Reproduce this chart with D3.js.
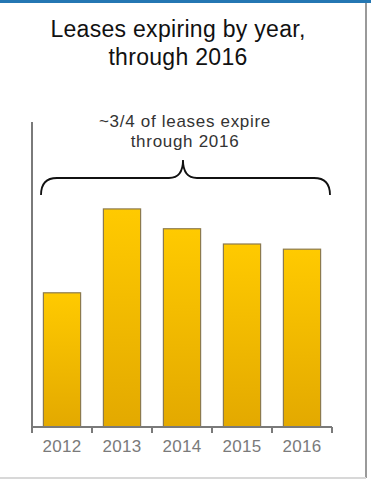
<!DOCTYPE html>
<html>
<head>
<meta charset="utf-8">
<script src="https://cdn.jsdelivr.net/npm/d3@7"></script>
<style>
  body { margin: 0; background: #fff; }
  svg { display: block; font-family: "Liberation Sans", Arial, sans-serif; }
</style>
</head>
<body>
<div id="chart"></div>
<script>
const years = ["2012", "2013", "2014", "2015", "2016"];
const leases = [44, 71.5, 65, 60, 58.3];
const titleLines = ["Leases expiring by year,", "through 2016"];
const noteLines = ["~3/4 of leases expire", "through 2016"];

const width = 371, height = 483;
const margin = {top: 122, right: 39, bottom: 56, left: 32};

const svg = d3.select("#chart")
    .append("svg")
    .attr("width", width)
    .attr("height", height);

// card frame
svg.append("rect")
    .attr("x", 0).attr("y", 0)
    .attr("width", 366).attr("height", 477)
    .attr("fill", "#fff");
svg.append("line")
    .attr("x1", 366).attr("x2", 366).attr("y1", 0).attr("y2", 478)
    .attr("stroke", "#9a9a9a").attr("stroke-width", 2);
svg.append("line")
    .attr("x1", 0).attr("x2", 366).attr("y1", 478).attr("y2", 478)
    .attr("stroke", "#d8d8d8").attr("stroke-width", 2);
svg.append("rect")
    .attr("x", 0).attr("y", 0)
    .attr("width", width).attr("height", 3)
    .attr("fill", "#2477b3");

const defs = svg.append("defs");
const grad = defs.append("linearGradient")
    .attr("id", "barGrad")
    .attr("x1", 0).attr("x2", 0).attr("y1", 0).attr("y2", 1);
grad.append("stop").attr("offset", "0%").attr("stop-color", "#ffca00");
grad.append("stop").attr("offset", "100%").attr("stop-color", "#e3a900");

const x = d3.scaleBand()
    .domain(years)
    .range([margin.left, width - margin.right])
    .paddingInner(0.38)
    .paddingOuter(0.19);

const y = d3.scaleLinear()
    .domain([0, 100])
    .range([height - margin.bottom, margin.top]);

svg.selectAll(".bar")
    .data(years)
    .enter()
    .append("rect")
    .attr("class", "bar")
    .attr("x", d => x(d))
    .attr("y", (d, i) => y(leases[i]))
    .attr("width", x.bandwidth())
    .attr("height", (d, i) => y(0) - y(leases[i]))
    .attr("fill", "url(#barGrad)")
    .attr("stroke", "#8c7a4e")
    .attr("stroke-width", 1.2);

// x axis
const bottom = height - margin.bottom;
svg.append("line")
    .attr("x1", margin.left).attr("x2", width - margin.right)
    .attr("y1", bottom).attr("y2", bottom)
    .attr("stroke", "#7a7a7a").attr("stroke-width", 2);
const step = x.step();
svg.selectAll(".tick")
    .data(d3.range(years.length + 1))
    .enter()
    .append("line")
    .attr("x1", i => margin.left + i * step)
    .attr("x2", i => margin.left + i * step)
    .attr("y1", bottom).attr("y2", bottom + 6)
    .attr("stroke", "#7a7a7a").attr("stroke-width", 2);
svg.selectAll(".ylab")
    .data(years)
    .enter()
    .append("text")
    .attr("x", d => x(d) + x.bandwidth() / 2)
    .attr("y", bottom + 25)
    .attr("text-anchor", "middle")
    .attr("font-size", 17)
    .attr("letter-spacing", 0.3)
    .attr("fill", "#7a7a7a")
    .text(d => d);

// y axis line
svg.append("line")
    .attr("x1", margin.left).attr("x2", margin.left)
    .attr("y1", margin.top).attr("y2", bottom)
    .attr("stroke", "#7a7a7a").attr("stroke-width", 2);

// title
svg.selectAll(".title")
    .data(titleLines)
    .enter()
    .append("text")
    .attr("x", 178)
    .attr("y", (d, i) => 37 + i * 28)
    .attr("text-anchor", "middle")
    .attr("font-size", 23)
    .attr("letter-spacing", 0.3)
    .attr("fill", "#111")
    .text(d => d);

// note
svg.selectAll(".note")
    .data(noteLines)
    .enter()
    .append("text")
    .attr("x", 185)
    .attr("y", (d, i) => 127 + i * 20)
    .attr("text-anchor", "middle")
    .attr("font-size", 17)
    .attr("letter-spacing", 0.7)
    .attr("fill", "#333")
    .text(d => d);

// brace
const bx0 = 41, bx1 = 330, bmid = 183, by = 178, btip = 160, bend = 195;
svg.append("path")
    .attr("d", `M${bx0},${bend} Q${bx0},${by} ${bx0 + 16},${by} L${bmid - 14},${by} Q${bmid},${by} ${bmid},${btip}` +
        ` Q${bmid},${by} ${bmid + 14},${by} L${bx1 - 16},${by} Q${bx1},${by} ${bx1},${bend}`)
    .attr("fill", "none")
    .attr("stroke", "#111")
    .attr("stroke-width", 1.8);
</script>
</body>
</html>
